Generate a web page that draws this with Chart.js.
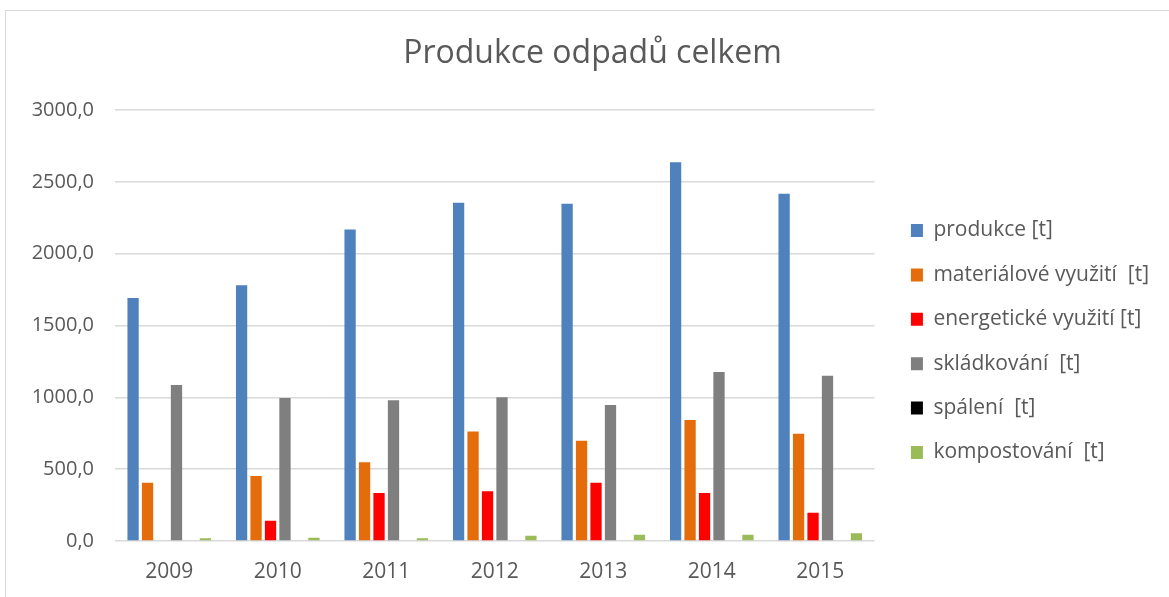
<!DOCTYPE html>
<html>
<head>
<meta charset="utf-8">
<script src="https://cdn.jsdelivr.net/npm/chart.js@4"></script>
<style>
  html, body { margin: 0; padding: 0; background: #ffffff; }
  #wrap { position: relative; width: 1169px; height: 597px; overflow: hidden; }
  #frame { position: absolute; left: 5px; top: 10px; width: 1300px; height: 700px; border: 1px solid #d9d9d9; box-sizing: border-box; }
  #c { position: absolute; left: 0; top: 0; }
</style>
</head>
<body>
<div id="wrap">
  <div id="frame"></div>
  <canvas id="c" width="1169" height="597"></canvas>
</div>
<script>
const title = "Produkce odpadů celkem";
const categories = ["2009", "2010", "2011", "2012", "2013", "2014", "2015"];
const seriesNames = ["produkce [t]", "materiálové využití  [t]", "energetické využití [t]", "skládkování  [t]", "spálení  [t]", "kompostování  [t]"];
const produkce = [1691, 1781, 2169, 2354, 2347, 2637, 2417];
const materialoveVyuziti = [406, 452, 548, 763, 698, 842, 747];
const energetickeVyuziti = [0, 141, 334, 346, 406, 334, 197];
const skladkovani = [1086, 995, 979, 1000, 946, 1176, 1150];
const spaleni = [0, 0, 0, 0, 0, 0, 0];
const kompostovani = [20, 23, 19, 37, 44, 44, 54];
const yTicks = [0, 500, 1000, 1500, 2000, 2500, 3000];

const colors = ["#4F81BD", "#E46C0A", "#FF0000", "#7F7F7F", "#000000", "#9BBB59"];
const seriesValues = [produkce, materialoveVyuziti, energetickeVyuziti, skladkovani, spaleni, kompostovani];

const textColor = "#595959";
const fontFamily = "'Open Sans', sans-serif";

new Chart(document.getElementById("c"), {
  type: "bar",
  data: {
    labels: categories,
    datasets: seriesNames.map((name, i) => ({
      label: name,
      data: seriesValues[i],
      backgroundColor: colors[i],
      borderWidth: 0,
      categoryPercentage: 0.8,
      barPercentage: 0.78
    }))
  },
  options: {
    responsive: false,
    animation: false,
    devicePixelRatio: 1,
    layout: { padding: { left: 26, right: 10, top: 10, bottom: 0 } },
    plugins: {
      title: {
        display: true,
        text: title,
        color: textColor,
        font: { family: fontFamily, size: 32, weight: "normal" },
        padding: { top: 25, bottom: 36.6 }
      },
      legend: {
        display: true,
        position: "right",
        maxWidth: 400,
        title: {
          display: true,
          text: " ",
          font: { family: fontFamily, size: 10 },
          padding: { top: 64, bottom: 0 }
        },
        labels: {
          color: textColor,
          font: { family: fontFamily, size: 21 },
          boxWidth: 12,
          boxHeight: 13,
          padding: 23.4
        }
      },
      tooltip: { enabled: false }
    },
    scales: {
      x: {
        afterFit: (s) => { s.height = 56; },
        grid: { display: false, drawTicks: false },
        border: { display: false },
        ticks: { color: textColor, font: { family: fontFamily, size: 21 }, padding: 18 }
      },
      y: {
        min: 0,
        max: 3000,
        afterFit: (s) => { s.width = 89; },
        afterBuildTicks: (s) => { s.ticks = yTicks.map(v => ({ value: v })); },
        grid: { color: "#d9d9d9", lineWidth: 1.5, drawTicks: false },
        border: { display: false },
        ticks: {
          color: textColor,
          font: { family: fontFamily, size: 20 },
          padding: 21,
          callback: (v) => Number(v).toFixed(1).replace(".", ",")
        }
      },
      y2: {
        position: "right",
        display: true,
        afterFit: (s) => { s.width = 13; },
        grid: { display: false, drawTicks: false },
        border: { display: false },
        ticks: { display: false }
      }
    }
  }
});
</script>
</body>
</html>
